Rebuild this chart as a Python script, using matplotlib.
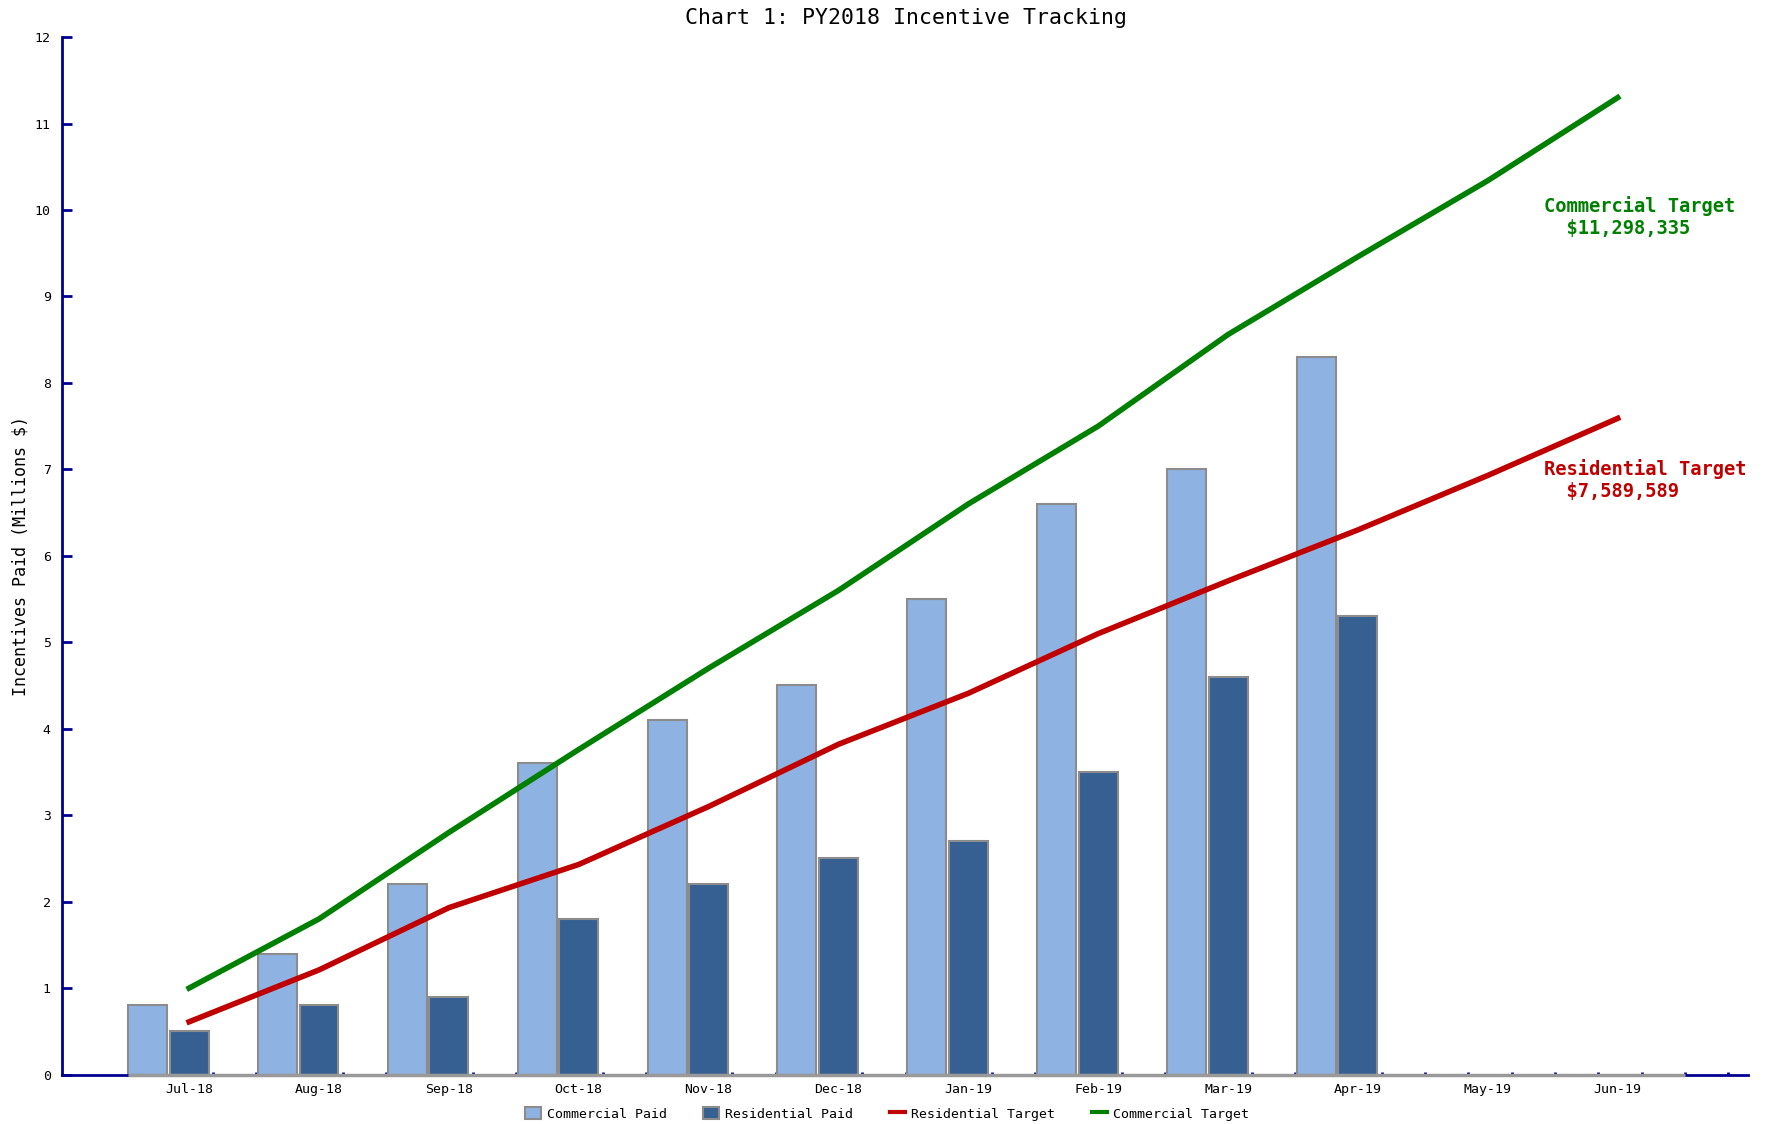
import numpy as np
import matplotlib
matplotlib.use("Agg")
import matplotlib.pyplot as plt
from matplotlib.patches import Patch
from matplotlib.lines import Line2D

months = ['Jul-18', 'Aug-18', 'Sep-18', 'Oct-18', 'Nov-18', 'Dec-18',
          'Jan-19', 'Feb-19', 'Mar-19', 'Apr-19', 'May-19', 'Jun-19']
commercial_paid = [0.8, 1.4, 2.2, 3.6, 4.1, 4.5, 5.5, 6.6, 7.0, 8.3]
residential_paid = [0.5, 0.8, 0.9, 1.8, 2.2, 2.5, 2.7, 3.5, 4.6, 5.3]
residential_target = [0.61, 1.21, 1.93, 2.43, 3.1, 3.82, 4.41, 5.1, 5.71, 6.3, 6.93, 7.59]
commercial_target = [1.0, 1.8, 2.8, 3.76, 4.7, 5.6, 6.6, 7.5, 8.56, 9.46, 10.34, 11.30]

c_light = '#8EB2E1'
c_dark = '#366092'
c_edge = '#8C8C8C'
c_red = '#C00000'
c_green = '#008000'
navy = '#000090'
mono = 'DejaVu Sans Mono'

fig = plt.figure(figsize=(17.67, 11.24), dpi=100)
ax = fig.add_axes([0.035, 0.044, 0.954, 0.923])

x = np.arange(len(months))
w = 0.3
xb = x[:len(commercial_paid)]
ax.bar(xb - 0.32, commercial_paid, w, color=c_light, edgecolor=c_edge, linewidth=1.5, zorder=2)
ax.bar(xb, residential_paid, w, color=c_dark, edgecolor=c_edge, linewidth=1.5, zorder=2)

ax.plot(x, residential_target, color=c_red, lw=4, zorder=3)
ax.plot(x, commercial_target, color=c_green, lw=4, zorder=3)

# gray baseline under the bar slots, drawn over the navy axis line
ax.plot([-0.47, 11.52], [0, 0], color='#999999', lw=2.5, zorder=4, clip_on=False,
        solid_capstyle='butt')

ax.text(10.43, 9.92, 'Commercial Target\n  $11,298,335', color=c_green,
        fontsize=13.5, fontweight='bold', family=mono, ha='left', va='center',
        linespacing=1.2)
ax.text(10.43, 6.88, 'Residential Target\n  $7,589,589', color=c_red,
        fontsize=13.5, fontweight='bold', family=mono, ha='left', va='center',
        linespacing=1.2)

ax.set_xlim(-0.98, 12.0)
ax.set_ylim(0, 12)
ax.set_xticks(x)
ax.set_xticklabels(months, family=mono, fontsize=9.5)
ax.set_xticks(np.arange(-0.15, 11.9, 1 / 3), minor=True)
ax.set_yticks(range(0, 13))
ax.set_yticklabels([str(v) for v in range(0, 13)], family=mono, fontsize=9.5)
ax.tick_params(axis='y', direction='in', length=7, width=2, color=navy, pad=8)
ax.tick_params(axis='x', which='major', length=0, pad=6)
ax.tick_params(axis='x', which='minor', direction='in', length=2, width=2, color=navy)

for s in ['top', 'right']:
    ax.spines[s].set_visible(False)
ax.spines['left'].set_color(navy)
ax.spines['bottom'].set_color(navy)
ax.spines['left'].set_linewidth(2)
ax.spines['bottom'].set_linewidth(2)

ax.set_ylabel('Incentives Paid (Millions $)', family=mono, fontsize=12, labelpad=4)
fig.text(0.513, 0.984, 'Chart 1: PY2018 Incentive Tracking', family=mono,
         fontsize=15.5, ha='center', va='center')

handles = [Patch(facecolor=c_light, edgecolor=c_edge, linewidth=1.5),
           Patch(facecolor=c_dark, edgecolor=c_edge, linewidth=1.5),
           Line2D([], [], color=c_red, lw=3),
           Line2D([], [], color=c_green, lw=3)]
labels = ['Commercial Paid', 'Residential Paid', 'Residential Target', 'Commercial Target']
fig.legend(handles, labels, loc='center', bbox_to_anchor=(0.502, 0.009), ncol=4,
           frameon=False, prop={'family': mono, 'size': 9.5}, handlelength=1.2,
           handleheight=1.0, handletextpad=0.4, columnspacing=2.8)

fig.savefig('out.png', dpi=100)
